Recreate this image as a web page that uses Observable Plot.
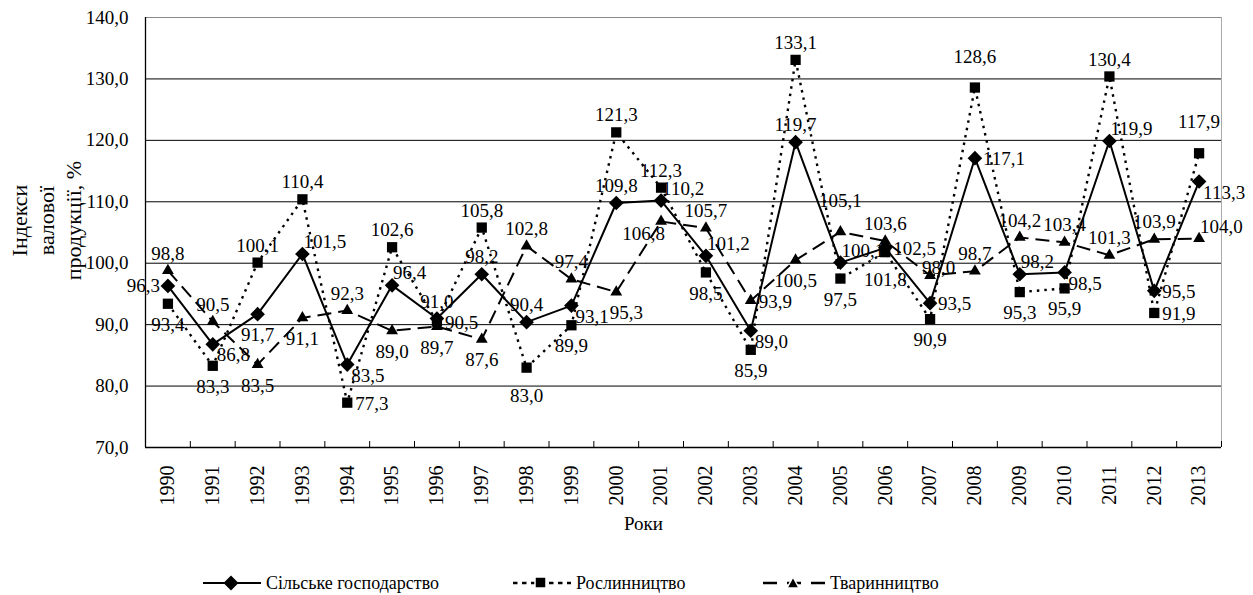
<!DOCTYPE html>
<html>
<head>
<meta charset="utf-8">
<script src="https://cdn.jsdelivr.net/npm/d3@7"></script>
<script src="https://cdn.jsdelivr.net/npm/@observablehq/plot@0.6"></script>
<style>
  html, body { margin: 0; padding: 0; background: #fff; }
  #wrap { width: 1253px; font-family: "Liberation Serif", "DejaVu Serif", serif; }
  #wrap svg text { font-family: "Liberation Serif", "DejaVu Serif", serif; }
  #legend { position: relative; width: 1253px; height: 45px; font-family: "Liberation Serif", "DejaVu Serif", serif; font-size: 18px; color: #000; }
  .item { position: absolute; top: 21px; height: 24px; display: flex; align-items: center; }
  .item svg { display: block; }
  .item span { margin-left: 5px; line-height: 24px; }
</style>
</head>
<body>
<div id="wrap"></div>
<script>
// ---- data ----
const years = [1990, 1991, 1992, 1993, 1994, 1995, 1996, 1997, 1998, 1999, 2000, 2001,
               2002, 2003, 2004, 2005, 2006, 2007, 2008, 2009, 2010, 2011, 2012, 2013];
const agriculture = [96.3, 86.8, 91.7, 101.5, 83.5, 96.4, 91.0, 98.2, 90.4, 93.1, 109.8, 110.2,
                     101.2, 89.0, 119.7, 100.1, 102.5, 93.5, 117.1, 98.2, 98.5, 119.9, 95.5, 113.3];
const cropProduction = [93.4, 83.3, 100.1, 110.4, 77.3, 102.6, 90.5, 105.8, 83.0, 89.9, 121.3, 112.3,
                        98.5, 85.9, 133.1, 97.5, 101.8, 90.9, 128.6, 95.3, 95.9, 130.4, 91.9, 117.9];
const livestock = [98.8, 90.5, 83.5, 91.1, 92.3, 89.0, 89.7, 87.6, 102.8, 97.4, 95.3, 106.8,
                   105.7, 93.9, 100.5, 105.1, 103.6, 98.0, 98.7, 104.2, 103.4, 101.3, 103.9, 104.0];
const seriesNames = ["Сільське господарство", "Рослинництво", "Тваринництво"];
const yTicks = [70, 80, 90, 100, 110, 120, 130, 140];
const yTitle = "Індекси\nвалової\nпродукції, %";
const xTitle = "Роки";

// data label placement (compass side of the point)
const agriLabelSide = ["W","SE","S","NE","SE","NE","N","N","N","SE","N","NE",
                       "NE","SE","N","NE","E","E","E","NE","SE","NE","E","SE"];
const cropLabelSide = ["S","S","N","N","E","N","E","N","SS","S","N","N",
                       "S","S","N","S","SS","S","NN","S","S","N","E","NN"];
const liveLabelSide = ["N","N","S","S","N","S","S","S","N","N","SR","SW",
                       "N","E","S","NN","N","NEL","N","N","N","N","N","NE"];

// ---- chart ----
const fmt = v => v.toFixed(1).replace(".", ",");
const FONT = "Liberation Serif, DejaVu Serif, serif";
const SIDES = {
  N:   {a: "middle", dx: 0,  dy: -17},
  NN:  {a: "middle", dx: 0,  dy: -31},
  S:   {a: "middle", dx: 0,  dy: 21},
  SR:  {a: "middle", dx: 10, dy: 21},
  SS:  {a: "middle", dx: 0,  dy: 28},
  E:   {a: "start",  dx: 8,  dy: 1},
  W:   {a: "end",    dx: -8, dy: 0},
  NE:  {a: "start",  dx: 1,  dy: -12},
  NEL: {a: "start",  dx: -8, dy: -8},
  SE:  {a: "start",  dx: 4,  dy: 11},
  SW:  {a: "end",    dx: 4,  dy: 12}
};

const series = [
  {name: seriesNames[0], values: agriculture, sides: agriLabelSide, symbol: "diamond2", r: 6.6, dash: null, sw: 2},
  {name: seriesNames[1], values: cropProduction, sides: cropLabelSide, symbol: "square", r: 5.8, dash: "2.5,5", sw: 2.4},
  {name: seriesNames[2], values: livestock, sides: liveLabelSide, symbol: "triangle", r: 4.4, dash: "14,7", sw: 2}
];
series.forEach(s => s.rows = years.map((y, i) => ({year: y, value: s.values[i], side: s.sides[i]})));

const boundaries = [years[0] - 0.5, ...years.map(y => y + 0.5)];

const marks = [
  Plot.ruleY(yTicks.slice(1, -1), {stroke: "#000", strokeWidth: 1}),
  Plot.ruleY([yTicks[yTicks.length - 1]], {stroke: "#888", strokeWidth: 1}),
  Plot.ruleX([boundaries[boundaries.length - 1]], {y1: yTicks[0], y2: yTicks[yTicks.length - 1], stroke: "#aaa", strokeWidth: 1}),
  Plot.ruleX([boundaries[0]], {y1: yTicks[0], y2: yTicks[yTicks.length - 1], stroke: "#000", strokeWidth: 1.3}),
  Plot.ruleY([yTicks[0]], {stroke: "#000", strokeWidth: 1.3}),
  Plot.axisX(boundaries, {tickSize: -6, tickFormat: () => "", label: null, stroke: "#000"}),
  Plot.axisY(yTicks, {tickSize: 0, tickPadding: 17, tickFormat: fmt, fontSize: 19, label: null}),
  Plot.text(years, {x: d => d, y: yTicks[0], text: d => String(d), rotate: -90, textAnchor: "end",
                    lineAnchor: "middle", dy: 18, fontSize: 20, letterSpacing: 1}),
  Plot.text([xTitle], {frameAnchor: "bottom", dx: -40, dy: 82, fontSize: 19}),
  Plot.text([yTitle], {frameAnchor: "left", rotate: -90, dx: -100, dy: -12, fontSize: 22, lineHeight: 1.23, textAnchor: "middle"})
];

for (const s of series) {
  marks.push(Plot.line(s.rows, {x: "year", y: "value", stroke: "#000", strokeWidth: s.sw,
                                strokeDasharray: s.dash, strokeLinecap: "butt"}));
}
for (const s of series) {
  marks.push(Plot.dot(s.rows, {x: "year", y: "value", symbol: () => s.symbol, r: s.r, fill: "#000", stroke: "none"}));
}
for (const s of series) {
  for (const [code, o] of Object.entries(SIDES)) {
    marks.push(Plot.text(s.rows, {filter: d => d.side === code, x: "year", y: "value",
                                  text: d => fmt(d.value), textAnchor: o.a, dx: o.dx, dy: o.dy,
                                  lineAnchor: "middle", fontSize: 19, fill: "#000"}));
  }
}

const chart = Plot.plot({
  width: 1253,
  height: 550,
  marginLeft: 145,
  marginRight: 32,
  marginTop: 17,
  marginBottom: 103,
  style: {fontFamily: FONT, fontSize: "19px", color: "#000", background: "#fff", overflow: "visible"},
  x: {domain: [boundaries[0], boundaries[boundaries.length - 1]], axis: null},
  y: {domain: [yTicks[0], yTicks[yTicks.length - 1]], axis: null},
  symbol: {type: "identity"},
  marks
});
chart.setAttribute("font-family", FONT);
document.getElementById("wrap").appendChild(chart);

// ---- legend ----
const legend = document.createElement("div");
legend.id = "legend";
const legendSymbols = [
  `<svg width="58" height="24"><line x1="0" y1="12" x2="58" y2="12" stroke="#000" stroke-width="2"/><path d="M28,4.5L35.5,12L28,19.5L20.5,12Z" fill="#000"/></svg>`,
  `<svg width="58" height="24"><line x1="0" y1="12" x2="58" y2="12" stroke="#000" stroke-width="2.4" stroke-dasharray="4.5,4.5"/><rect x="22" y="6" width="11" height="11" fill="#000" stroke="#fff" stroke-width="1.5"/></svg>`,
  `<svg width="62" height="24"><line x1="0" y1="12" x2="62" y2="12" stroke="#000" stroke-width="2.4" stroke-dasharray="14,10"/><path d="M30,6L36,17L24,17Z" fill="#000" stroke="#fff" stroke-width="1.5"/></svg>`
];
const legendLeft = [203, 513, 763];
seriesNames.forEach((n, i) => {
  const it = document.createElement("div");
  it.className = "item";
  it.style.left = legendLeft[i] + "px";
  it.innerHTML = legendSymbols[i] + `<span>${n}</span>`;
  legend.appendChild(it);
});
document.getElementById("wrap").appendChild(legend);
</script>
</body>
</html>
